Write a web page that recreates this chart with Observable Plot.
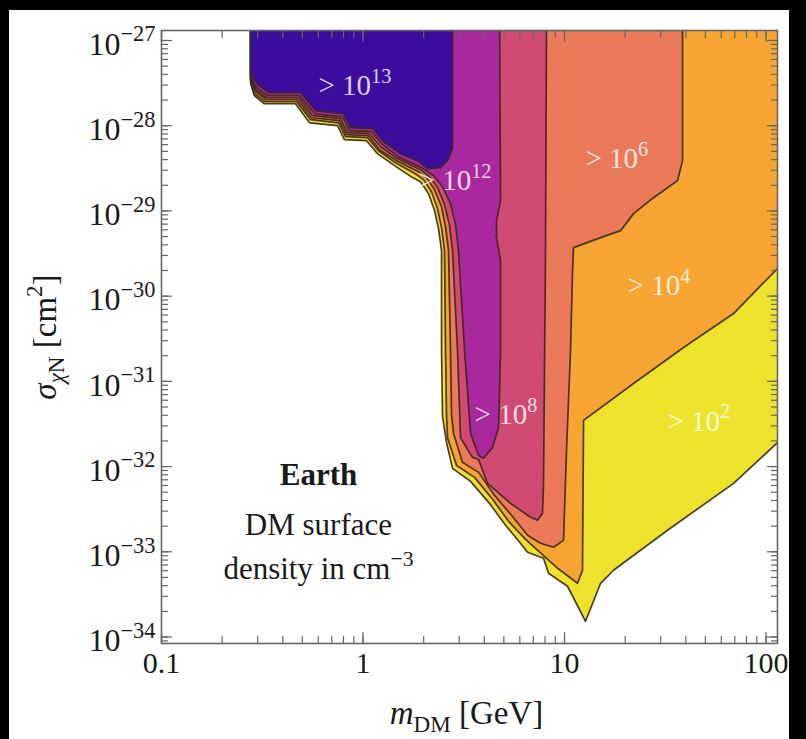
<!DOCTYPE html>
<html><head><meta charset="utf-8">
<script src="https://cdn.jsdelivr.net/npm/d3@7"></script>
<script src="https://cdn.jsdelivr.net/npm/@observablehq/plot@0.6"></script>
<style>
html,body{margin:0;padding:0;background:#000;overflow:hidden;}
#page{position:relative;width:806px;height:739px;}
#paper{position:absolute;left:9px;top:10px;width:780px;height:729px;background:#fff;}
#chart{position:absolute;left:0;top:0;}
</style></head><body>
<div id="page"><div id="paper"></div><div id="chart"></div></div>
<script>
// ---- axes ----
const massDomain = [0.1, 114];
const sigmaDomain = [8.39e-35, 1.31e-27];
const xMajorTicks = [0.1, 1, 10, 100];
const xTickLabels = ["0.1", "1", "10", "100"];
const yMajorTicks = [1e-34, 1e-33, 1e-32, 1e-31, 1e-30, 1e-29, 1e-28, 1e-27];
const yTickLabels = ["10^{−34}", "10^{−33}", "10^{−32}", "10^{−31}", "10^{−30}", "10^{−29}", "10^{−28}", "10^{−27}"];
const xAxisLabel = "*m*_{DM} [GeV]";
const yAxisLabel = "*σ*_{*χ*N} [cm^{2}]";

// ---- contour regions: [m_DM (GeV), sigma (cm^2)] ----
const regionLevels = ["> 10^2", "> 10^4", "> 10^6", "> 10^8", "> 10^12", "> 10^13"];
const regionColors = ["#efe22c", "#f6a532", "#ea7a5a", "#d04a74", "#a9289e", "#3c0c9f"];
const yellowRegion = [[0.277,2e-27],[150,2e-27],[150,1.91e-32],[114,1.91e-32],[69.0,6.35e-33],[32.44,1.79e-33],[17.51,6.07e-34],[15.10,4.27e-34],[12.71,1.53e-34],[10.35,3.94e-34],[8.330,5.60e-34],[7.867,8.39e-34],[6.553,9.87e-34],[6.048,1.26e-33],[5.097,2.05e-33],[4.245,3.70e-33],[3.417,6.71e-33],[2.781,9.53e-33],[2.597,1.91e-32],[2.481,3.88e-32],[2.453,2.30e-31],[2.453,3.42e-30],[2.370,6.20e-30],[2.264,1.01e-29],[2.114,1.60e-29],[1.930,2.20e-29],[1.761,2.46e-29],[1.433,3.40e-29],[1.180,4.70e-29],[1.041,6.67e-29],[0.809,6.85e-29],[0.747,1.0e-28],[0.543,1.08e-28],[0.462,1.81e-28],[0.324,1.81e-28],[0.289,2.25e-28],[0.277,3.11e-28]];
const orangeRegion = [[0.277,2e-27],[150,2e-27],[150,2.11e-30],[114,2.11e-30],[69.0,6.25e-31],[38.96,2.50e-31],[22.00,9.45e-32],[12.43,3.48e-32],[12.28,6.07e-34],[11.60,4.27e-34],[9.233,6.41e-34],[8.049,8.62e-34],[6.405,1.40e-33],[5.275,2.28e-33],[4.393,4.13e-33],[3.577,7.47e-33],[2.911,1.03e-32],[2.627,2.18e-32],[2.597,3.88e-32],[2.567,2.30e-31],[2.538,3.42e-30],[2.453,6.37e-30],[2.343,1.06e-29],[2.188,1.68e-29],[1.997,2.33e-29],[1.843,2.67e-29],[1.450,3.68e-29],[1.194,5.09e-29],[1.053,7.23e-29],[0.819,7.43e-29],[0.756,1.08e-28],[0.549,1.18e-28],[0.468,1.91e-28],[0.328,1.91e-28],[0.289,2.37e-28],[0.277,3.28e-28]];
const salmonRegion = [[0.277,2e-27],[38.52,2e-27],[38.52,3.89e-29],[36.38,2.27e-29],[27.65,1.43e-29],[22.00,9.30e-30],[18.97,5.87e-30],[15.10,4.86e-30],[11.08,3.71e-30],[10.96,2.00e-30],[10.71,2.30e-31],[10.23,1.55e-32],[9.886,1.36e-33],[8.819,1.13e-33],[7.601,1.26e-33],[6.553,1.56e-33],[5.458,2.68e-33],[4.495,4.59e-33],[3.745,8.55e-33],[3.118,1.12e-32],[2.813,2.45e-32],[2.750,3.98e-32],[2.718,2.30e-31],[2.657,3.42e-30],[2.567,6.55e-30],[2.453,1.12e-29],[2.264,1.78e-29],[2.066,2.46e-29],[1.886,2.89e-29],[1.467,3.89e-29],[1.207,5.23e-29],[1.065,7.63e-29],[0.828,7.84e-29],[0.764,1.15e-28],[0.555,1.24e-28],[0.473,2.02e-28],[0.332,2.02e-28],[0.293,2.50e-28],[0.277,3.46e-28]];
const pinkRegion = [[0.277,2e-27],[8.142,2e-27],[8.049,3.42e-30],[7.867,6.35e-33],[7.777,2.83e-33],[7.345,2.34e-33],[6.782,2.54e-33],[5.395,3.70e-33],[4.149,6.35e-33],[3.745,1.21e-32],[3.496,1.28e-32],[3.047,2.18e-32],[2.944,2.30e-31],[2.781,3.42e-30],[2.688,6.73e-30],[2.538,1.19e-29],[2.343,1.88e-29],[2.138,2.52e-29],[1.930,3.05e-29],[1.483,4.10e-29],[1.221,5.67e-29],[1.077,8.06e-29],[0.838,8.28e-29],[0.773,1.21e-28],[0.562,1.31e-28],[0.479,2.13e-28],[0.332,2.13e-28],[0.293,2.64e-28],[0.277,3.65e-28]];
const purpleRegion = [[0.277,2e-27],[4.760,2e-27],[4.815,1.32e-29],[4.599,7.70e-30],[4.599,4.86e-30],[4.815,2.61e-30],[4.815,2.30e-31],[4.706,2.88e-32],[4.393,1.68e-32],[3.963,1.25e-32],[3.745,1.35e-32],[3.417,2.45e-32],[3.190,2.30e-31],[2.978,3.42e-30],[2.878,6.91e-30],[2.718,1.22e-29],[2.481,1.93e-29],[2.239,2.59e-29],[1.951,3.22e-29],[1.517,4.22e-29],[1.250,5.99e-29],[1.102,8.51e-29],[0.857,8.74e-29],[0.791,1.27e-28],[0.575,1.38e-28],[0.484,2.25e-28],[0.336,2.25e-28],[0.296,2.79e-28],[0.277,3.75e-28]];
const blueRegion = [[0.277,2e-27],[2.781,2e-27],[2.781,5.37e-29],[2.627,3.89e-29],[2.425,3.22e-29],[2.090,3.13e-29],[1.865,3.89e-29],[1.535,4.70e-29],[1.264,6.49e-29],[1.115,9.22e-29],[0.867,9.48e-29],[0.800,1.38e-28],[0.581,1.50e-28],[0.490,2.44e-28],[0.340,2.44e-28],[0.300,3.03e-28],[0.277,4.07e-28]];
const regionPolygons = [yellowRegion, orangeRegion, salmonRegion, pinkRegion, purpleRegion, blueRegion];

// ---- in-plot labels ----
const labelTexts = ["> 10^{13}", "> 10^{12}", "> 10^{8}", "> 10^{6}", "> 10^{4}", "> 10^{2}"];
const labelMass  = [0.601, 1.886, 3.577, 12.71, 20.55, 32.44];
const labelSigma = [2.94e-28, 2.27e-29, 4.09e-32, 4.10e-29, 1.33e-30, 3.39e-32];
const noteTexts = ["Earth", "DM surface", "density in cm^{−3}"];
const noteMass  = [0.601, 0.601, 0.601];
const noteSigma = [7.88e-33, 2.05e-33, 6.24e-34];

const font = '"Liberation Serif","Times New Roman",serif';
const lineColor = "#3a281c";
const tickColor = "#666";

const labelRows = labelTexts.map((t, i) => ({t, m: labelMass[i], s: labelSigma[i]}));
const noteRows = noteTexts.map((t, i) => ({t, m: noteMass[i], s: noteSigma[i], bold: i === 0}));

const plot = Plot.plot({
  width: 806, height: 739,
  marginLeft: 161, marginRight: 29, marginTop: 30, marginBottom: 96,
  style: {background: "transparent", fontFamily: font, color: "#222"},
  x: {type: "log", domain: massDomain, label: null},
  y: {type: "log", domain: sigmaDomain, label: null},
  marks: [
    ...regionPolygons.map((pts, i) => Plot.line(pts, {
      x: d => d[0], y: d => d[1], fill: regionColors[i], stroke: lineColor,
      strokeWidth: 1.7, strokeOpacity: 0.9, curve: "linear-closed", clip: true
    })),
    Plot.text(labelRows, {x: "m", y: "s", text: "t", textAnchor: "start", fill: "white",
      fillOpacity: 0.82, fontSize: 29, fontFamily: font}),
    Plot.text(noteRows.filter(d => d.bold), {x: "m", y: "s", text: "t", fontSize: 31, fontWeight: "bold", fill: "#1a1a1a", fontFamily: font}),
    Plot.text(noteRows.filter(d => !d.bold), {x: "m", y: "s", text: "t", fontSize: 31, fill: "#1a1a1a", fontFamily: font}),
    Plot.frame({stroke: tickColor, strokeWidth: 1.6}),
    Plot.axisX({anchor: "bottom", ticks: 40, tickSize: -7, tickFormat: () => "", stroke: tickColor, strokeWidth: 1.2}),
    Plot.axisX({anchor: "top", ticks: 40, tickSize: -7, tickFormat: () => "", stroke: tickColor, strokeWidth: 1.2}),
    Plot.axisX(xMajorTicks, {anchor: "bottom", tickSize: -11, tickFormat: () => "", stroke: tickColor, strokeWidth: 1.2}),
    Plot.axisX(xMajorTicks, {anchor: "top", tickSize: -11, tickFormat: () => "", stroke: tickColor, strokeWidth: 1.2}),
    Plot.axisY({anchor: "left", ticks: 60, tickSize: -7, tickFormat: () => "", stroke: tickColor, strokeWidth: 1.2}),
    Plot.axisY({anchor: "right", ticks: 60, tickSize: -7, tickFormat: () => "", stroke: tickColor, strokeWidth: 1.2}),
    Plot.axisY(yMajorTicks, {anchor: "left", tickSize: -11, tickFormat: () => "", stroke: tickColor, strokeWidth: 1.2}),
    Plot.axisY(yMajorTicks, {anchor: "right", tickSize: -11, tickFormat: () => "", stroke: tickColor, strokeWidth: 1.2}),
    Plot.axisX(xMajorTicks, {anchor: "bottom", tickSize: 0, tickPadding: 8, fontSize: 30, fill: "#1a1a1a",
      tickFormat: d => xTickLabels[xMajorTicks.indexOf(d)]}),
    Plot.axisY(yMajorTicks, {anchor: "left", tickSize: 0, tickPadding: 6, fontSize: 32, fill: "#1a1a1a", dy: 4,
      tickFormat: d => yTickLabels[yMajorTicks.indexOf(d)]}),
    Plot.text([yAxisLabel], {frameAnchor: "left", dx: -116, rotate: -90, textAnchor: "middle", lineAnchor: "middle",
      fontSize: 33, fill: "#1a1a1a", fontFamily: font}),
    Plot.text([xAxisLabel], {frameAnchor: "bottom", dx: -3, dy: 70, textAnchor: "middle", lineAnchor: "middle",
      fontSize: 33, fill: "#1a1a1a", fontFamily: font})
  ]
});
document.getElementById("chart").appendChild(plot);

// rich text: ^{..} superscript, _{..} subscript, *..* italic
function richText(el) {
  const raw = el.textContent;
  if (!/\^\{|_\{|\*/.test(raw)) return;
  const F = parseFloat(getComputedStyle(el).fontSize) || 16;
  const segs = []; let buf = "", mode = "n", ital = false;
  const flush = () => { if (buf) segs.push({t: buf, mode, ital}); buf = ""; };
  for (let i = 0; i < raw.length; i++) {
    const c = raw[i];
    if ((c === "^" || c === "_") && raw[i + 1] === "{") { flush(); mode = c === "^" ? "sup" : "sub"; i++; }
    else if (c === "}") { flush(); mode = "n"; }
    else if (c === "*") { flush(); ital = !ital; }
    else buf += c;
  }
  flush();
  while (el.firstChild) el.removeChild(el.firstChild);
  let cur = 0;
  for (const s of segs) {
    const ts = document.createElementNS("http://www.w3.org/2000/svg", "tspan");
    const target = s.mode === "sup" ? -0.42 * F : s.mode === "sub" ? 0.24 * F : 0;
    if (target !== cur) ts.setAttribute("dy", (target - cur).toFixed(2));
    cur = target;
    if (s.mode !== "n") ts.setAttribute("font-size", (0.7 * F).toFixed(2));
    if (s.ital) ts.setAttribute("font-style", "italic");
    ts.textContent = s.t;
    el.appendChild(ts);
  }
}
plot.querySelectorAll("text").forEach(richText);
</script>
</body></html>
